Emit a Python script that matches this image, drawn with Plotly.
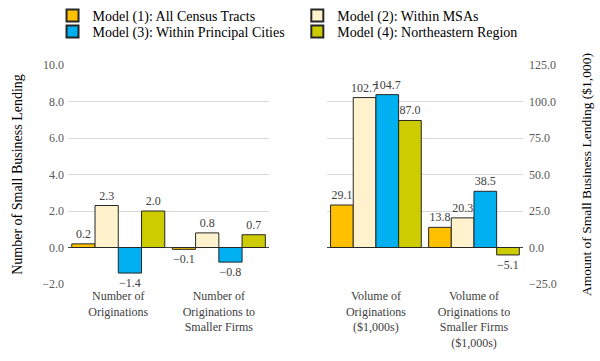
import plotly.graph_objects as go

models = ["Model (1): All Census Tracts", "Model (2): Within MSAs",
          "Model (3): Within Principal Cities", "Model (4): Northeastern Region"]
colors = ["#FFC000", "#FFF2CC", "#00B0F0", "#CCCC00"]

left_cats = ["Number of<br>Originations", "Number of<br>Originations to<br>Smaller Firms"]
right_cats = ["Volume of<br>Originations<br>($1,000s)", "Volume of<br>Originations to<br>Smaller Firms<br>($1,000s)"]

left_vals = {
    models[0]: [0.2, -0.1],
    models[1]: [2.3, 0.8],
    models[2]: [-1.4, -0.8],
    models[3]: [2.0, 0.7],
}
right_vals = {
    models[0]: [29.1, 13.8],
    models[1]: [102.7, 20.3],
    models[2]: [104.7, 38.5],
    models[3]: [87.0, -5.1],
}

left_ticks = [-2, 0, 2, 4, 6, 8, 10]
right_ticks = [-25, 0, 25, 50, 75, 100, 125]

FONT = "Liberation Serif, Times New Roman, serif"
legend_ids = ["legend", "legend2", "legend3", "legend4"]


def fmt(v):
    s = f"{abs(v):.1f}"
    return ("\u2212" + s) if v < 0 else s


fig = go.Figure()
for m, c, lg in zip(models, colors, legend_ids):
    fig.add_trace(go.Bar(
        x=left_cats, y=left_vals[m], name=m, marker=dict(color=c, line=dict(color="#262626", width=1)),
        text=[fmt(v) for v in left_vals[m]], textposition="outside", constraintext="none",
        cliponaxis=False, textfont=dict(size=12, color="#404040", family=FONT),
        xaxis="x", yaxis="y", legendgroup=m, showlegend=True, legend=lg,
    ))
for m, c in zip(models, colors):
    fig.add_trace(go.Bar(
        x=right_cats, y=right_vals[m], name=m, marker=dict(color=c, line=dict(color="#262626", width=1)),
        text=[fmt(v) for v in right_vals[m]], textposition="outside", constraintext="none",
        cliponaxis=False, textfont=dict(size=12, color="#404040", family=FONT),
        xaxis="x2", yaxis="y2", legendgroup=m, showlegend=False,
    ))

axis_common = dict(showgrid=True, gridcolor="#D9D9D9", gridwidth=1, zeroline=True,
                   zerolinecolor="#404040", zerolinewidth=1, showline=False, ticks="",
                   tickfont=dict(size=12, color="#595959", family=FONT), tickformat=".1f",
                   automargin=False)

leg_common = dict(orientation="h", xref="paper", yref="container", xanchor="left", yanchor="top",
                  font=dict(size=14, family=FONT, color="#000000"), bgcolor="rgba(0,0,0,0)",
                  itemsizing="constant")
leg_pos = [(-0.034, 1.0), (0.504, 1.0), (-0.034, 0.9557), (0.504, 0.9557)]

layout_legends = {lg: dict(x=px, y=py, **leg_common) for lg, (px, py) in zip(legend_ids, leg_pos)}

fig.update_layout(
    width=600, height=361,
    margin=dict(l=68, r=77, t=65, b=77, autoexpand=False),
    paper_bgcolor="white", plot_bgcolor="white",
    font=dict(family=FONT, color="#000000"),
    barmode="group", bargap=0.075, bargroupgap=0,
    showlegend=True,
    xaxis=dict(domain=[0, 0.442], showgrid=False, ticks="", showline=False, automargin=False,
               ticklabelstandoff=3, tickfont=dict(size=12, color="#404040", family=FONT)),
    xaxis2=dict(domain=[0.569, 1], showgrid=False, ticks="", showline=False, automargin=False,
                ticklabelstandoff=3, tickfont=dict(size=12, color="#404040", family=FONT)),
    yaxis=dict(range=[-2, 10], tickvals=left_ticks, anchor="x", ticklabelstandoff=3,
               title=dict(text="Number of Small Business Lending", font=dict(size=14, family=FONT), standoff=16),
               **axis_common),
    yaxis2=dict(range=[-25, 125], tickvals=right_ticks, anchor="x2", side="right", ticklabelstandoff=5,
                title=dict(text="Amount of Small Business Lending ($1,000)", font=dict(size=13.5, family=FONT), standoff=25),
                **axis_common),
    **layout_legends,
)

fig.write_html("out.html", config={"displayModeBar": False},
               post_script="document.body.style.margin='0';")
